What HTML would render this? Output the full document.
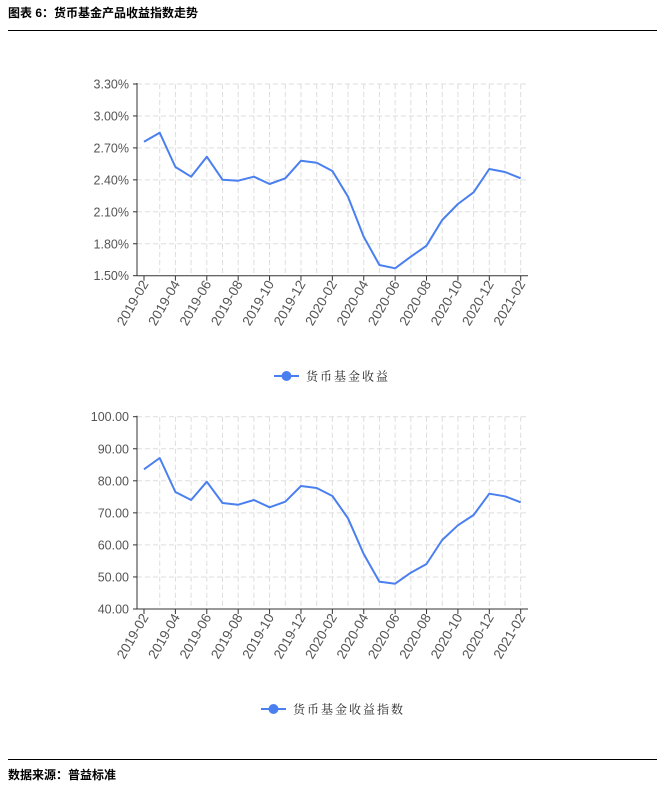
<!DOCTYPE html>
<html><head><meta charset="utf-8"><style>
body{margin:0;background:#fff;width:662px;height:786px;overflow:hidden}
svg{display:block}
</style></head><body>
<svg width="662" height="786" xmlns="http://www.w3.org/2000/svg" font-family="Liberation Sans, Noto Sans CJK SC, sans-serif">
<text x="8" y="17" font-size="12" font-weight="bold" font-family="Liberation Sans, Noto Sans CJK SC, sans-serif">图表 6：货币基金产品收益指数走势</text>
<line x1="8" y1="30.5" x2="657" y2="30.5" stroke="#000" stroke-width="1"/>
<line x1="8" y1="759.5" x2="657" y2="759.5" stroke="#000" stroke-width="1"/>
<text x="8" y="779" font-size="12" font-weight="bold" font-family="Liberation Sans, Noto Sans CJK SC, sans-serif">数据来源：普益标准</text>
<g id="c1"></g>
<g id="c2"></g>
</svg>
<script>
function chart(gid, top, bot, labels, zy, oy, legY, legX, legText){
  var g=document.getElementById(gid), s='';
  var ax=137, right=528, n=25, x0=144, dx=(520.7-144)/24;
  for(var k=0;k<7;k++){var y=top+(bot-top)*k/6;
    if(k<6) s+='<line x1="'+ax+'" y1="'+y+'" x2="'+right+'" y2="'+y+'" stroke="#ddd" stroke-dasharray="5,3"/>';
    s+='<text x="'+(ax-8)+'" y="'+(y+4.5)+'" font-size="12.5" fill="#555" text-anchor="end">'+labels[k]+'</text>';
    s+='<line x1="'+(ax-4)+'" y1="'+y+'" x2="'+ax+'" y2="'+y+'" stroke="#333"/>';}
  for(var i=0;i<n;i++){var x=x0+i*dx;
    if(i>0) s+='<line x1="'+x+'" y1="'+top+'" x2="'+x+'" y2="'+bot+'" stroke="#ddd" stroke-dasharray="5,3"/>';
    if(i%2==0){s+='<line x1="'+x+'" y1="'+bot+'" x2="'+x+'" y2="'+(bot+5)+'" stroke="#333"/>';
      var yr=2019+Math.floor((1+i)/12), mo=((1+i)%12)+1; var lab=yr+'-'+(mo<10?'0':'')+mo;
      s+='<text transform="translate('+(x+5)+','+(bot+8)+') rotate(-60)" font-size="13.5" fill="#555" text-anchor="end">'+lab+'</text>';}
  }
  s+='<line x1="'+ax+'" y1="'+(top-1)+'" x2="'+ax+'" y2="'+bot+'" stroke="#333"/>';
  s+='<line x1="'+ax+'" y1="'+bot+'" x2="'+right+'" y2="'+bot+'" stroke="#333"/>';
  var p=[];for(var i=0;i<n;i++)p.push((x0+i*dx).toFixed(1)+','+(oy+zy[i]/3).toFixed(1));
  s+='<polyline points="'+p.join(' ')+'" fill="none" stroke="#4a7ff0" stroke-width="2" stroke-linejoin="round"/>';
  s+='<line x1="'+legX+'" y1="'+legY+'" x2="'+(legX+25)+'" y2="'+legY+'" stroke="#4a7ff0" stroke-width="2"/>';
  s+='<circle cx="'+(legX+12.5)+'" cy="'+legY+'" r="5" fill="#4a7ff0"/>';
  s+='<text x="'+(legX+32)+'" y="'+(legY+4.5)+'" font-size="12" fill="#222" letter-spacing="2" font-family="Noto Serif CJK SC, serif">'+legText+'</text>';
  g.innerHTML=s;
}
chart('c1',84,275.7,['3.30%','3.00%','2.70%','2.40%','2.10%','1.80%','1.50%'],
 [215,188,291,320,260,329,332,320,342,325,272,278,303,380,500,585,595,560,527,450,402,367,297,306,325],70,376,274,'货币基金收益');
chart('c2',416.7,609,['100.00','90.00','80.00','70.00','60.00','50.00','40.00'],
 [208,174,276,300,245,309,314,300,322,305,258,264,288,355,462,545,551,518,492,420,376,345,281,289,307],400,709,261,'货币基金收益指数');
</script>
</body></html>
